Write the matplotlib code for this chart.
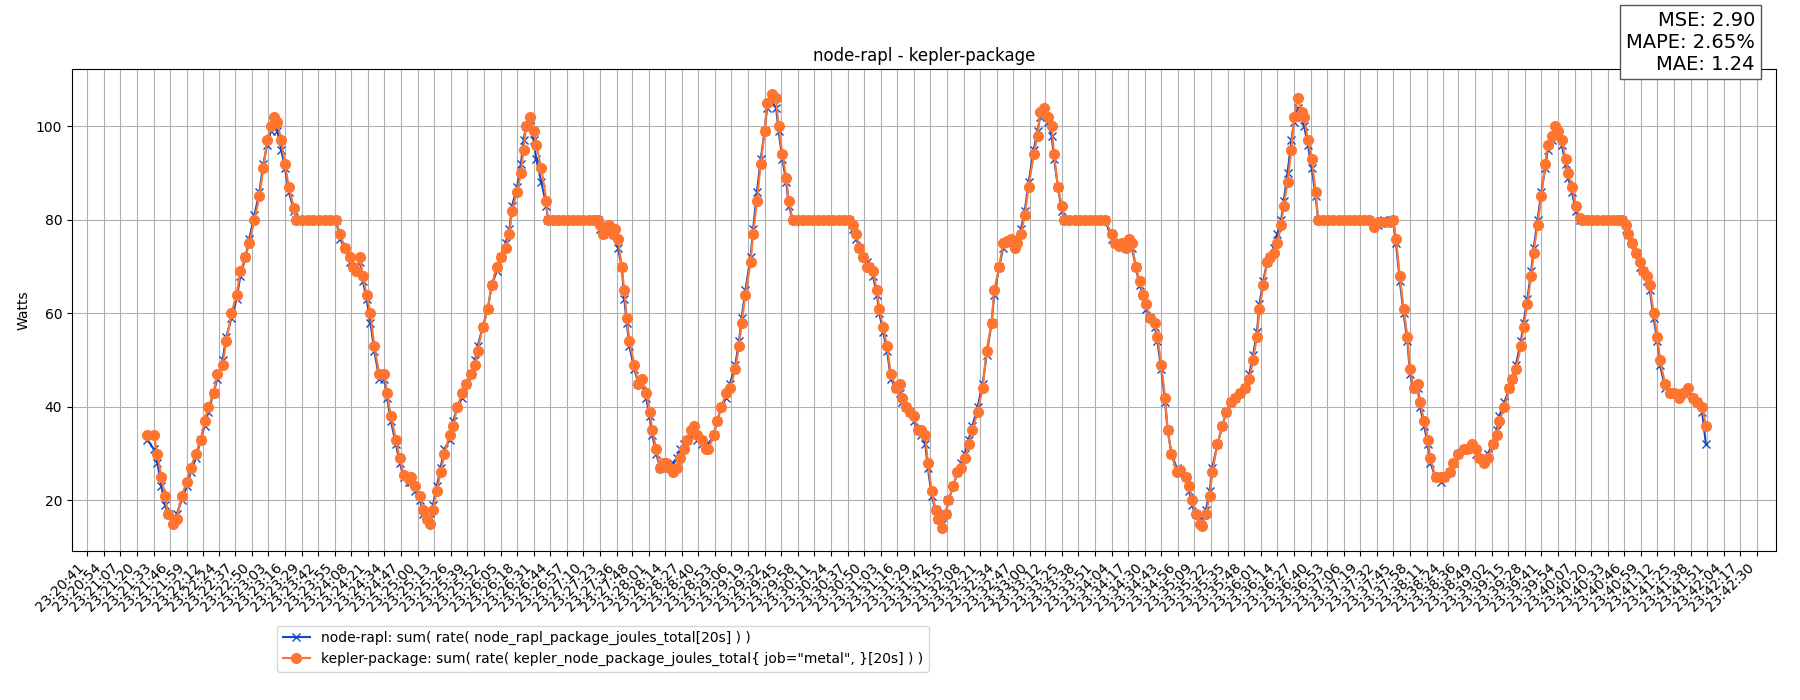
import matplotlib
matplotlib.use("Agg")
import matplotlib.pyplot as plt

# sample times, seconds after 23:20:41
t_sec = [47, 52, 55, 58, 61, 63, 67, 70, 74, 78, 81, 85, 89, 92, 95, 99, 102, 106, 109, 113,
         117, 120, 124, 127, 131, 135, 138, 141, 144, 146, 149, 152, 155, 158, 162, 164,
         168, 173, 177, 182, 186, 190, 195,
         198, 202, 206, 208, 211, 214, 216, 219, 222, 225, 229, 233, 235, 238, 242, 245, 248, 252,
         254, 257, 261, 263, 266, 269, 271, 274, 277, 280, 284, 287, 290, 294, 297, 301, 304, 306,
         310, 314, 317, 321, 324, 328, 331, 333, 337, 340, 342, 344, 347, 350, 352, 356, 360, 361,
         365, 369, 373, 377, 381, 385, 389, 393, 397, 400,
         402, 404, 406, 409, 412, 414, 416, 419, 421, 423, 425, 429, 432, 435, 438, 441, 443, 446,
         449, 451, 454, 457, 459, 462, 465, 468, 470, 473, 476, 478, 482, 485, 487, 491, 494, 497,
         501, 504, 508, 511, 513, 516, 520, 522, 525, 528, 531, 533, 537, 540, 542, 545, 548, 550, 553,
         557, 561, 565, 569, 573, 577, 581, 585, 589, 593, 597,
         600, 603, 605, 608, 611, 613, 616, 619, 621, 624, 627, 630, 634, 637, 639, 642, 645, 648,
         651, 654, 657, 659, 662, 665, 667, 670, 673, 675, 679, 682, 685, 688, 691, 694, 698, 702,
         705, 709, 711, 715, 718, 721, 724, 727, 729, 732, 735, 738, 742, 745, 747, 750, 753, 756,
         758, 761, 764, 766,
         770, 774, 778, 782, 786, 790, 794, 798,
         803, 806, 809, 811, 814, 817, 819, 822, 825, 828, 830, 833, 837, 839, 842, 845, 847, 850,
         854, 857, 861, 864, 866, 869, 872, 874, 877, 880, 882, 886, 890, 893, 897, 900, 904, 908,
         911, 914, 917, 919, 922, 925, 927, 930, 933, 936, 938, 941, 944, 946, 949, 952, 954, 957,
         960, 963, 965,
         969, 973, 977, 981, 985, 989, 993, 997, 1001, 1005,
         1009, 1012, 1017, 1021, 1024, 1026, 1029, 1032, 1035, 1037, 1040, 1043, 1045, 1048, 1051,
         1053, 1057, 1061, 1064, 1068, 1071, 1075, 1079, 1082, 1086, 1089, 1091, 1095, 1098, 1102,
         1105, 1107, 1111, 1115, 1117, 1120, 1124, 1126, 1129, 1132, 1134, 1137, 1140, 1143, 1145,
         1148, 1151, 1153, 1156, 1159, 1161, 1164, 1167, 1170, 1172,
         1176, 1180, 1184, 1188, 1192, 1196, 1200, 1203,
         1206, 1208, 1211, 1214, 1217, 1220, 1223, 1225, 1228, 1231, 1233, 1237, 1241, 1244, 1248,
         1251, 1255, 1259, 1262, 1266, 1269]

kepler_w = [34, 34, 30, 25, 21, 17, 15, 16, 21, 24, 27, 30, 33, 37, 40, 43, 47, 49, 54, 60,
            64, 69, 72, 75, 80, 85, 91, 97, 100, 102, 101, 97, 92, 87, 82.5, 80,
            80, 80, 80, 80, 80, 80, 80,
            77, 74, 72, 70, 69, 72, 68, 64, 60, 53, 47, 47, 43, 38, 33, 29, 25.5, 24.5,
            25, 23, 21, 18, 16, 15, 18, 22, 26, 30, 34, 36, 40, 43, 45, 47, 49, 52,
            57, 61, 66, 70, 72, 74, 77, 82, 86, 90, 95, 100, 102, 99, 96, 91, 84, 80,
            80, 80, 80, 80, 80, 80, 80, 80, 80, 80,
            79, 77, 78, 79, 77, 78, 76, 70, 65, 59, 54, 49, 45, 46, 43, 39, 35, 31,
            27, 28, 28, 27, 26, 27, 29, 31, 33, 35, 36, 34, 33, 31, 31, 34, 37, 40,
            43, 44, 48, 53, 58, 64, 71, 77, 84, 92, 99, 105, 107, 106, 100, 94, 89, 84, 80,
            80, 80, 80, 80, 80, 80, 80, 80, 80, 80, 80,
            79, 77, 74, 72, 70, 70, 69, 65, 61, 57, 53, 47, 44, 45, 42, 40, 39, 38,
            35, 35, 34, 28, 22, 18, 16, 14, 17, 20, 23, 26, 27, 29, 32, 35, 39, 44,
            52, 58, 65, 70, 75, 75.5, 76, 74, 75, 77, 81, 87, 94, 98, 103, 104, 102, 100,
            94, 87, 83, 80,
            80, 80, 80, 80, 80, 80, 80, 80,
            77, 75, 74.5, 75, 74, 76, 75, 70, 67, 64, 62, 59, 58, 55, 49, 42, 35, 30,
            26, 26.5, 25, 23, 20, 17, 15, 14.5, 17, 21, 26, 32, 36, 39, 41, 42, 43, 44,
            46, 50, 55, 61, 66, 71, 72, 73, 75, 79, 83, 88, 95, 102, 106, 103, 102, 97,
            93, 86, 80,
            80, 80, 80, 80, 80, 80, 80, 80, 80, 80,
            78.5, 79.5, 79.5, 79.5, 80, 76, 68, 61, 55, 48, 44, 45, 41, 37, 33,
            29, 25, 25, 25, 26, 28, 30, 31, 31, 32, 31, 29, 28, 29, 32,
            34, 37, 40, 44, 46, 48, 53, 57, 62, 68, 73, 79, 85, 92, 96,
            98, 100, 99, 97, 93, 90, 87, 83, 80.5, 80,
            80, 80, 80, 80, 80, 80, 80, 80,
            79, 77, 75, 73, 71, 69, 68, 66, 60, 55, 50, 45, 43, 43, 42,
            43, 44, 42, 41, 40, 36]

rapl_w = [33, 31, 28, 23, 19, 17, 16, 17, 20, 23, 26, 29, 33, 36, 39, 43, 46, 50, 55, 59,
          63, 68, 72, 76, 81, 86, 92, 96, 99, 100, 99, 95, 91, 86, 82, 80,
          80, 80, 80, 80, 80, 80, 80,
          76, 74, 71, 70, 70, 71, 67, 63, 58, 52, 46, 46, 42, 37, 32, 28, 25, 24,
          24, 22, 20, 17, 16, 16, 19, 23, 27, 31, 33, 37, 40, 42, 45, 47, 50, 53,
          57, 61, 66, 69, 72, 75, 78, 83, 87, 92, 97, 100, 100, 97, 93, 88, 83, 80,
          80, 80, 80, 80, 80, 80, 80, 80, 80, 80,
          78, 77, 78, 78, 77, 77, 74, 70, 63, 58, 53, 48, 45, 45, 42, 38, 34, 30,
          27, 27, 27, 27, 28, 29, 31, 32, 33, 34, 34, 33, 32, 32, 32, 34, 37, 40,
          42, 45, 49, 54, 59, 65, 72, 78, 86, 93, 99, 104, 105, 104, 99, 93, 88, 83, 80,
          80, 80, 80, 80, 80, 80, 80, 80, 80, 80, 80,
          78, 76, 74, 72, 71, 70, 68, 64, 60, 56, 52, 46, 44, 43, 41, 40, 39, 37,
          35, 34, 32, 27, 21, 18, 16, 15, 17, 20, 23, 26, 28, 30, 33, 36, 40, 45,
          51, 58, 64, 70, 74, 75, 75, 75, 76, 78, 82, 88, 95, 99, 102, 103, 101, 98,
          93, 87, 82, 80,
          80, 80, 80, 80, 80, 80, 80, 80,
          76, 75, 75, 75, 74, 75, 74, 70, 66, 64, 61, 59, 57, 54, 48, 41, 35, 30,
          27, 26, 25, 22, 19, 17, 16, 16, 18, 22, 27, 32, 36, 39, 41, 42, 43, 44,
          47, 51, 56, 62, 67, 71, 72, 74, 77, 80, 84, 90, 97, 101, 104, 102, 100, 96,
          91, 85, 80,
          80, 80, 80, 80, 80, 80, 80, 80, 80, 80,
          79, 79, 80, 80, 80, 75, 67, 60, 54, 47, 44, 44, 40, 36, 32,
          28, 25, 24, 25, 26, 28, 30, 31, 31, 31, 30, 29, 29, 30, 32,
          35, 38, 41, 44, 46, 49, 54, 58, 63, 69, 74, 80, 86, 91, 95,
          97, 99, 98, 96, 92, 89, 86, 82, 80, 80,
          80, 80, 80, 80, 80, 80, 80, 80,
          78, 77, 75, 73, 70, 69, 67, 65, 59, 54, 49, 44, 43, 43, 43,
          43, 43, 42, 41, 39, 32]

tick_labels = ["23:20:41", "23:20:54", "23:21:07", "23:21:20", "23:21:33", "23:21:46", "23:21:59",
               "23:22:12", "23:22:24", "23:22:37", "23:22:50", "23:23:03", "23:23:16", "23:23:29",
               "23:23:42", "23:23:55", "23:24:08", "23:24:21", "23:24:34", "23:24:47", "23:25:00",
               "23:25:13", "23:25:26", "23:25:39", "23:25:52", "23:26:05", "23:26:18", "23:26:31",
               "23:26:44", "23:26:57", "23:27:10", "23:27:23", "23:27:36", "23:27:48", "23:28:01",
               "23:28:14", "23:28:27", "23:28:40", "23:28:53", "23:29:06", "23:29:19", "23:29:32",
               "23:29:45", "23:29:58", "23:30:11", "23:30:24", "23:30:37", "23:30:50", "23:31:03",
               "23:31:16", "23:31:29", "23:31:42", "23:31:55", "23:32:08", "23:32:21", "23:32:34",
               "23:32:47", "23:33:00", "23:33:12", "23:33:25", "23:33:38", "23:33:51", "23:34:04",
               "23:34:17", "23:34:30", "23:34:43", "23:34:56", "23:35:09", "23:35:22", "23:35:35",
               "23:35:48", "23:36:01", "23:36:14", "23:36:27", "23:36:40", "23:36:53", "23:37:06",
               "23:37:19", "23:37:32", "23:37:45", "23:37:58", "23:38:11", "23:38:24", "23:38:36",
               "23:38:49", "23:39:02", "23:39:15", "23:39:28", "23:39:41", "23:39:54", "23:40:07",
               "23:40:20", "23:40:33", "23:40:46", "23:40:59", "23:41:12", "23:41:25", "23:41:38",
               "23:41:51", "23:42:04", "23:42:17", "23:42:30"]

metrics_text = "MSE: 2.90\nMAPE: 2.65%\nMAE: 1.24"


def to_sec(label):
    h, m, s = (int(p) for p in label.split(":"))
    return (h * 3600 + m * 60 + s) - (23 * 3600 + 20 * 60 + 41)


fig = plt.figure(figsize=(18, 7), dpi=100)
ax = fig.add_axes([0.04, 0.213, 0.9467, 0.688])

ax.plot(t_sec, rapl_w, color="#1448c8", marker="x", markersize=6, linewidth=1.5,
        label="node-rapl: sum( rate( node_rapl_package_joules_total[20s] ) )")
ax.plot(t_sec, kepler_w, color="#ff7530", marker="o", markersize=7, linewidth=1.5,
        label='kepler-package: sum( rate( kepler_node_package_joules_total{ job="metal", }[20s] ) )')

ax.set_xticks([to_sec(l) for l in tick_labels])
ax.set_xticklabels(tick_labels, rotation=45, ha="right", fontsize=10)
ax.set_xlim(-12, 1324)
ax.set_ylim(9.2, 112.2)
ax.set_ylabel("Watts")
ax.set_title("node-rapl - kepler-package")
ax.grid(True, color="#b0b0b0")

fig.legend(loc="lower left", bbox_to_anchor=(0.15, 0.03), fontsize=10)
fig.text(0.975, 0.985, metrics_text, ha="right", va="top", fontsize=14,
         bbox=dict(boxstyle="square,pad=0.3", facecolor="white", edgecolor="#555555"))

fig.savefig("out.png")
